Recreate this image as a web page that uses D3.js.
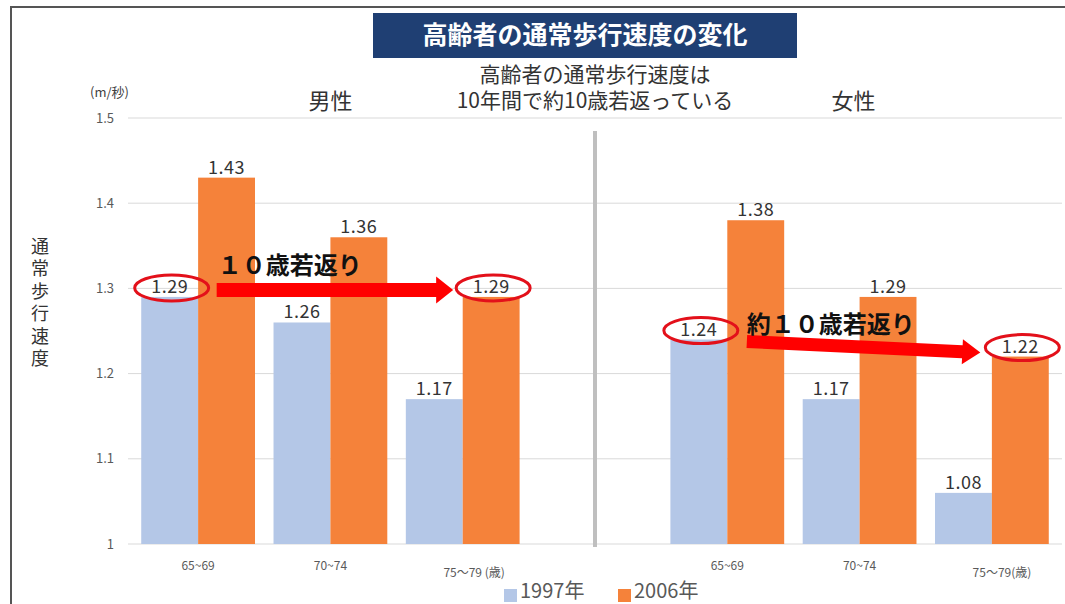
<!DOCTYPE html>
<html>
<head>
<meta charset="utf-8">
<script src="https://cdn.jsdelivr.net/npm/d3@7"></script>
<style>
    body { margin: 0; background: #fff; }
    text { font-family: "Noto Sans CJK JP", "Noto Sans", sans-serif; }
</style>
</head>
<body>
<script>
//chart data
var categories = ["65~69", "70~74", "75～79", "", "65~69", "70~74", "75～79"];
var seriesNames = ["1997年", "2006年"];
var values1997 = [1.29, 1.26, 1.17, null, 1.24, 1.17, 1.06];
var values2006 = [1.43, 1.36, 1.29, null, 1.38, 1.29, 1.22];
var labels1997 = ["1.29", "1.26", "1.17", "", "1.24", "1.17", "1.08"];
var labels2006 = ["1.43", "1.36", "1.29", "", "1.38", "1.29", "1.22"];
var yTicks = [1, 1.1, 1.2, 1.3, 1.4, 1.5];
var groupNames = ["男性", "女性"];
var ageUnit = ["(歳)", "(歳)"];

(function(){

    var width = 1065,
        height = 604;

    var colors = { "1997年": "#b4c7e7", "2006年": "#f5823a" };

    var svg = d3.select("body")
        .append("svg")
        .attr("width", width)
        .attr("height", height);

    //outer frame (top and left edges only are visible)
    svg.append("path")
        .attr("d", "M11,604 V7 H1065")
        .attr("fill", "none")
        .attr("stroke", "#555")
        .attr("stroke-width", 2);

    //scales
    var y = d3.scaleLinear().domain([1, 1.5]).range([544, 118]);
    var x = d3.scaleBand()
        .domain(d3.range(categories.length))
        .range([128, 1062])
        .paddingInner(0.14)
        .paddingOuter(0.1);
    var x1 = d3.scaleBand()
        .domain(seriesNames)
        .range([0, x.bandwidth()]);

    //gridlines
    svg.append("g")
        .selectAll("line")
        .data(yTicks)
        .enter()
        .append("line")
        .attr("x1", 128)
        .attr("x2", 1062)
        .attr("y1", function(d){ return y(d); })
        .attr("y2", function(d){ return y(d); })
        .attr("stroke", "#d9d9d9")
        .attr("stroke-width", 1);

    //y axis labels
    var yAxis = svg.append("g")
        .attr("transform", "translate(128,0)")
        .call(d3.axisLeft(y).tickValues(yTicks).tickSize(0).tickPadding(14)
            .tickFormat(function(d){ return d3.format("")(d); }));
    yAxis.select(".domain").remove();
    yAxis.selectAll("text")
        .attr("fill", "#595959")
        .style("font-size", "13px");

    //bars
    var rows = categories.map(function(c, i) {
        return [
            { i: i, s: "1997年", v: values1997[i], label: labels1997[i] },
            { i: i, s: "2006年", v: values2006[i], label: labels2006[i] }
        ];
    });
    var barData = d3.merge(rows).filter(function(d){ return d.v != null; });

    svg.append("g")
        .selectAll("rect")
        .data(barData)
        .enter()
        .append("rect")
        .attr("x", function(d){ return x(d.i) + x1(d.s); })
        .attr("width", x1.bandwidth())
        .attr("y", function(d){ return y(d.v); })
        .attr("height", function(d){ return y(1) - y(d.v); })
        .attr("fill", function(d){ return colors[d.s]; });

    //value labels
    svg.append("g")
        .selectAll("text")
        .data(barData)
        .enter()
        .append("text")
        .attr("x", function(d){ return x(d.i) + x1(d.s) + x1.bandwidth() / 2; })
        .attr("y", function(d){ return y(d.v) - 4; })
        .attr("text-anchor", "middle")
        .attr("fill", "#333")
        .style("font-size", "18px")
        .style("letter-spacing", "0.5px")
        .text(function(d){ return d.label; });

    //divider between the two panels
    var mid = x(3) + x.bandwidth() / 2;
    svg.append("line")
        .attr("x1", mid).attr("x2", mid)
        .attr("y1", 131).attr("y2", 547)
        .attr("stroke", "#bfbfbf")
        .attr("stroke-width", 4);

    //x axis labels
    var xAxis = svg.append("g")
        .attr("transform", "translate(0,544)")
        .call(d3.axisBottom(x).tickSize(0).tickPadding(17)
            .tickFormat(function(i){ return categories[i]; }));
    xAxis.select(".domain").remove();
    xAxis.selectAll("text")
        .attr("fill", "#595959")
        .style("font-size", "12px");

    //append the (歳) unit to the last label of each panel, keeping 75～79 centred
    [2, 6].forEach(function(idx, k) {
        var t = xAxis.selectAll(".tick").filter(function(d){ return d == idx; }).select("text");
        var len = t.node().getComputedTextLength();
        t.attr("text-anchor", "start")
            .attr("x", -len / 2)
            .attr("dy", "1.3em");
        t.append("tspan")
            .style("font-size", "12px")
            .text((k == 0 ? " " : "") + ageUnit[k]);
    });

    //panel names
    svg.selectAll(".group")
        .data(groupNames)
        .enter()
        .append("text")
        .attr("class", "group")
        .attr("x", function(d, k){ return (x(k * 4) + x(k * 4 + 2) + x.bandwidth()) / 2 - k * 6; })
        .attr("y", 109)
        .attr("text-anchor", "middle")
        .attr("fill", "#333")
        .style("font-size", "22px")
        .text(function(d){ return d; });

    //title box
    svg.append("rect")
        .attr("x", 373).attr("y", 13)
        .attr("width", 424).attr("height", 45)
        .attr("fill", "#1f3f73");
    svg.append("text")
        .attr("x", 585).attr("y", 44)
        .attr("text-anchor", "middle")
        .attr("fill", "#fff")
        .style("font-size", "25px")
        .style("font-weight", "bold")
        .text("高齢者の通常歩行速度の変化");

    //subtitle, two lines in one text element
    svg.append("text")
        .attr("y", 82)
        .attr("text-anchor", "middle")
        .attr("fill", "#333")
        .style("font-size", "21px")
        .selectAll("tspan")
        .data(["高齢者の通常歩行速度は", "10年間で約10歳若返っている"])
        .enter()
        .append("tspan")
        .attr("x", mid)
        .attr("dy", function(d, k){ return k == 0 ? 0 : 26; })
        .text(function(d){ return d; });

    //unit and axis title
    svg.append("text")
        .attr("x", 90).attr("y", 97)
        .attr("fill", "#404040")
        .style("font-size", "13px")
        .text("(m/秒)");

    svg.append("text")
        .attr("x", 40)
        .attr("y", 237)
        .attr("fill", "#333")
        .style("font-size", "18px")
        .style("writing-mode", "vertical-rl")
        .style("letter-spacing", "4.5px")
        .text("通常歩行速度");

    //red ellipses around the compared labels
    function labelPos(i, s) {
        var v = s == "1997年" ? values1997[i] : values2006[i];
        return [x(i) + x1(s) + x1.bandwidth() / 2 + 2, y(v) - 9];
    }
    var rings = [labelPos(0, "1997年"), labelPos(2, "2006年"), labelPos(4, "1997年"), labelPos(6, "2006年")];
    svg.append("g")
        .selectAll("ellipse")
        .data(rings)
        .enter()
        .append("ellipse")
        .attr("cx", function(d){ return d[0]; })
        .attr("cy", function(d){ return d[1]; })
        .attr("rx", 37)
        .attr("ry", 13)
        .attr("fill", "none")
        .attr("stroke", "#e3101a")
        .attr("stroke-width", 3);

    //arrow as a polygon from (x0,y0) to tip (xe,ye)
    function drawArrow(x0, y0, xe, ye, thick, headLen, headW) {
        var dx = xe - x0, dy = ye - y0,
            len = Math.sqrt(dx * dx + dy * dy),
            ux = dx / len, uy = dy / len,
            nx = -uy, ny = ux,
            bx = xe - ux * headLen, by = ye - uy * headLen;
        var pts = [
            [x0 + nx * thick / 2, y0 + ny * thick / 2],
            [bx + nx * thick / 2, by + ny * thick / 2],
            [bx + nx * headW / 2, by + ny * headW / 2],
            [xe, ye],
            [bx - nx * headW / 2, by - ny * headW / 2],
            [bx - nx * thick / 2, by - ny * thick / 2],
            [x0 - nx * thick / 2, y0 - ny * thick / 2]
        ];
        svg.append("polygon")
            .attr("points", pts.map(function(p){ return p.join(","); }).join(" "))
            .attr("fill", "#ff0000");
    }

    drawArrow(rings[0][0] + 45, rings[0][1] + 2, rings[1][0] - 40, rings[1][1] + 2, 14, 17, 27);
    drawArrow(rings[2][0] + 46, rings[2][1] + 11, rings[3][0] - 42, rings[3][1] + 5, 13, 18, 25);

    //annotation texts
    svg.append("text")
        .attr("x", rings[0][0] + 46).attr("y", rings[0][1] - 14)
        .attr("fill", "#111")
        .style("font-size", "24px")
        .style("font-weight", "bold")
        .text("１０歳若返り");
    svg.append("text")
        .attr("x", rings[2][0] + 46).attr("y", rings[2][1] + 2)
        .attr("fill", "#111")
        .style("font-size", "24px")
        .style("font-weight", "bold")
        .text("約１０歳若返り");

    //legend
    var legend = svg.append("g")
        .selectAll("g")
        .data(seriesNames)
        .enter()
        .append("g")
        .attr("transform", function(d, k){ return "translate(" + (504 + k * 114) + ",0)"; });
    legend.append("rect")
        .attr("x", 0).attr("y", 589)
        .attr("width", 13).attr("height", 13)
        .attr("fill", function(d){ return colors[d]; });
    legend.append("text")
        .attr("x", 16).attr("y", 598)
        .attr("fill", "#595959")
        .style("font-size", "20px")
        .text(function(d){ return d; });

})();
</script>
</body>
</html>
